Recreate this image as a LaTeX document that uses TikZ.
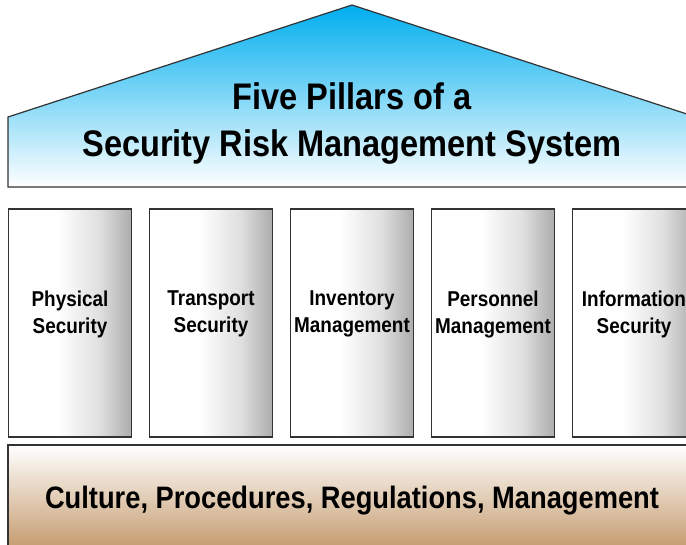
\documentclass[tikz,border=0pt]{standalone}
\usepackage{fontspec}
\setmainfont[FakeStretch=0.88]{Liberation Sans}
\usetikzlibrary{positioning}

\definecolor{roofblue}{HTML}{00AEEF}
\definecolor{basetan}{HTML}{C49A6C}
\definecolor{edgegray}{HTML}{333333}

\pgfdeclarehorizontalshading{pillarshade}{100bp}{color(0bp)=(white); color(25bp)=(white);
    color(45bp)=(white); color(62bp)=(gray!25); color(75bp)=(gray!65); color(100bp)=(gray!65)}

\begin{document}
\begin{tikzpicture}[x=1pt, y=-1pt,
    edge/.style={draw=edgegray, line width=1.2pt},
    roof/.style={edge, top color=roofblue, bottom color=white},
    pillar/.style={edge, minimum width=123pt, minimum height=228pt, inner sep=0pt,
        shading=pillarshade},
    pillartext/.style={font=\bfseries\fontsize{21.5}{27}\selectfont, align=center},
    basebox/.style={edge, top color=white, middle color=white, bottom color=basetan}]
    \useasboundingbox (0,0) rectangle (686,545);
    \clip (0,0) rectangle (686,545);

    % roof
    \draw[roof] (8,187) -- (8,117) -- (352,5) -- (696,117) -- (696,187) -- cycle;
    \node[font=\bfseries\fontsize{37}{47}\selectfont, align=center] (title) at (352,124)
        {Five Pillars of a\\Security Risk Management System};

    % pillars
    \foreach \px/\txt [count=\n] in {70/{Physical\\Security}, 211/{Transport\\Security},
        352/{Inventory\\Management}, 493/{Personnel\\Management}, 634/{Information\\Security}}
    {
        \node[pillar] (p\n) at (\px,323) {};
        \node[pillartext] (t\n) at ([yshift=9pt]p\n.center) {\txt};
    }

    % base
    \draw[basebox] (8,445) rectangle (696,550);
    \node[font=\bfseries\fontsize{31}{36}\selectfont] (base) at (352,501)
        {Culture, Procedures, Regulations, Management};
\end{tikzpicture}
\end{document}
